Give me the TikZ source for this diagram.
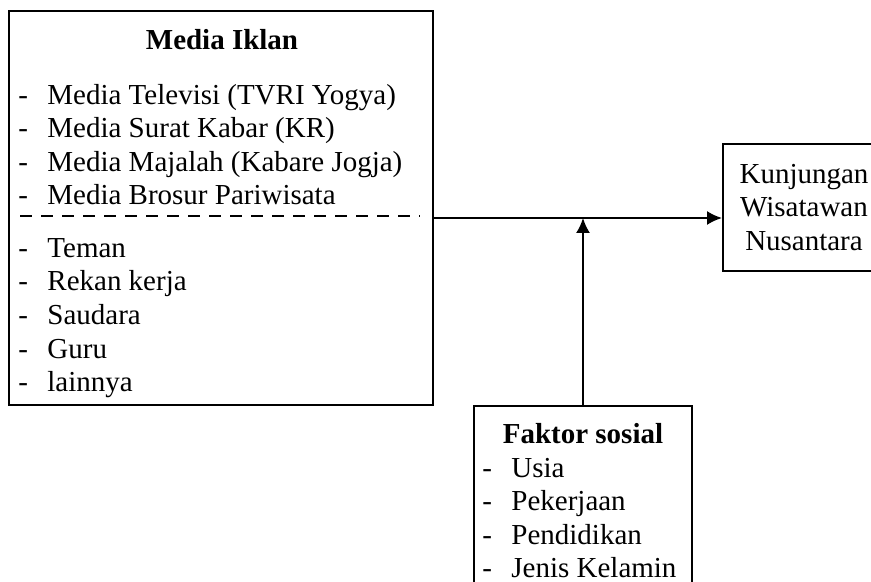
\documentclass[tikz,border=0pt]{standalone}
\usepackage{fontspec}
\setmainfont{Liberation Serif}
\usetikzlibrary{arrows.meta,fit,positioning}

\begin{document}
\begin{tikzpicture}[x=0.414pt,y=0.414pt,
  font=\fontsize{12}{13.9}\selectfont,
  kotak/.style={draw,line width=0.8pt,inner sep=0pt},
  butir/.style={anchor=base west,inner sep=0pt},
  judul/.style={anchor=base,inner sep=0pt,font=\fontsize{12}{13.9}\selectfont\bfseries},
  pisah/.style={line width=0.8pt,dash pattern=on 5pt off 3.7pt},
  panah/.style={-{Latex[length=6.2pt,width=5.8pt]},line width=0.8pt}]
\useasboundingbox (0,0) rectangle (871,581);
% kotak media iklan
\node[kotak,fit={(9,176)(433,570)}] (iklan) {};
\node[judul] (judulIklan) at (222,532) {Media Iklan};
\foreach \teks [count=\i from 0] in {Media Televisi (TVRI Yogya),Media Surat Kabar (KR),
  Media Majalah (Kabare Jogja),Media Brosur Pariwisata}
  \node[butir] (media\i) at (18,477-33.5*\i) {\makebox[12pt][l]{-}\teks};
\draw[pisah] (20,365) -- (420,365);
\foreach \teks [count=\i from 0] in {Teman,Rekan kerja,Saudara,Guru,lainnya}
  \node[butir] (orang\i) at (18,323.7-33.6*\i) {\makebox[12pt][l]{-}\teks};
% kotak tujuan
\node[kotak,align=center,minimum width=67.1pt,minimum height=52.6pt] (kunjungan) at (804,373.5)
  {Kunjungan\\Wisatawan\\Nusantara};
% kotak faktor sosial
\node[kotak,fit={(474,-20)(692,175)}] (faktor) {};
\node[judul] (judulFaktor) at (583,138) {Faktor sosial};
\foreach \teks [count=\i from 0] in {Usia,Pekerjaan,Pendidikan,Jenis Kelamin}
  \node[butir] (sosial\i) at (482,104-33.5*\i) {\makebox[12pt][l]{-}\teks};
% panah
\coordinate (temu) at (583,363);
\draw[panah] (iklan.east |- temu) -- (kunjungan.west |- temu);
\draw[panah] (faktor.north -| temu) -- (temu);
\end{tikzpicture}
\end{document}
